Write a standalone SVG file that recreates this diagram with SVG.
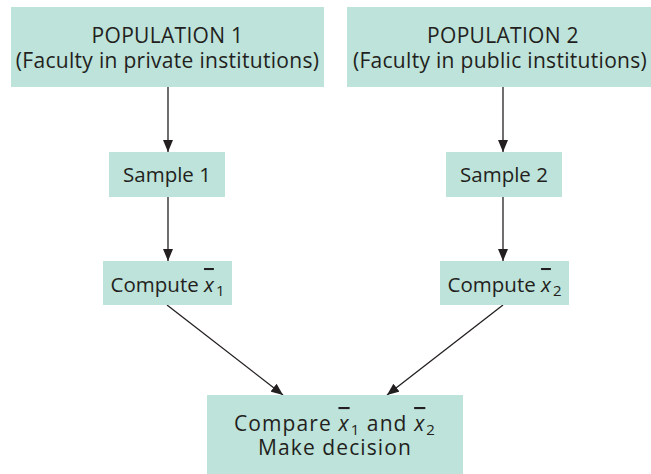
<svg xmlns="http://www.w3.org/2000/svg" width="651" height="474" viewBox="0 0 651 474">
<defs>
<style>
.box{fill:#bde3da;}
text{font-family:"Open Sans","Noto Sans",sans-serif;font-size:20.5px;fill:#231f20;text-anchor:middle;}
.pop{font-size:21px;letter-spacing:0.3px;}
.cmp{font-size:21px;letter-spacing:1.1px;}
.v{font-style:italic;text-decoration:overline;}
.sub{font-size:15px;}
.edge{stroke:#231f20;stroke-width:1.3;fill:none;marker-end:url(#ah);}
</style>
<marker id="ah" viewBox="0 0 12 10" refX="12" refY="5" markerWidth="12" markerHeight="10" markerUnits="userSpaceOnUse" orient="auto">
<path d="M0,0 L12,5 L0,10 Z" fill="#231f20"/>
</marker>
</defs>
<rect width="651" height="474" fill="#ffffff"/>
<g id="connectors">
<line class="edge" x1="168" y1="87" x2="168" y2="152"/>
<line class="edge" x1="503" y1="87" x2="503" y2="152"/>
<line class="edge" x1="168" y1="197" x2="168" y2="261"/>
<line class="edge" x1="503" y1="197" x2="503" y2="261"/>
<line class="edge" x1="167" y1="305" x2="283" y2="395"/>
<line class="edge" x1="503" y1="305" x2="387" y2="395"/>
</g>
<g id="pop1">
<rect class="box" x="11" y="7" width="313" height="80"/>
<text class="pop" x="167.5" y="43">POPULATION 1</text>
<text class="pop" x="167.5" y="68">(Faculty in private institutions)</text>
</g>
<g id="pop2">
<rect class="box" x="347" y="7" width="312" height="80"/>
<text class="pop" x="503" y="43">POPULATION 2</text>
<text class="pop" x="500" y="68">(Faculty in public institutions)</text>
</g>
<g id="sample1">
<rect class="box" x="109" y="152" width="116" height="45"/>
<text x="167" y="182">Sample 1</text>
</g>
<g id="sample2">
<rect class="box" x="446" y="152" width="116" height="45"/>
<text x="504" y="182">Sample 2</text>
</g>
<g id="compute1">
<rect class="box" x="103" y="261" width="129" height="44"/>
<text x="167.5" y="292">Compute <tspan class="v">x</tspan><tspan class="sub" dx="2" dy="4">1</tspan></text>
</g>
<g id="compute2">
<rect class="box" x="440" y="261" width="129" height="44"/>
<text x="504.5" y="292">Compute <tspan class="v">x</tspan><tspan class="sub" dx="2" dy="4">2</tspan></text>
</g>
<g id="compare">
<rect class="box" x="207" y="395" width="256" height="79"/>
<text class="cmp" x="335" y="431">Compare <tspan class="v">x</tspan><tspan class="sub" dx="1" dy="4">1</tspan><tspan dy="-4"> and </tspan><tspan class="v">x</tspan><tspan class="sub" dx="1" dy="4">2</tspan></text>
<text class="cmp" x="335" y="455">Make decision</text>
</g>
</svg>
